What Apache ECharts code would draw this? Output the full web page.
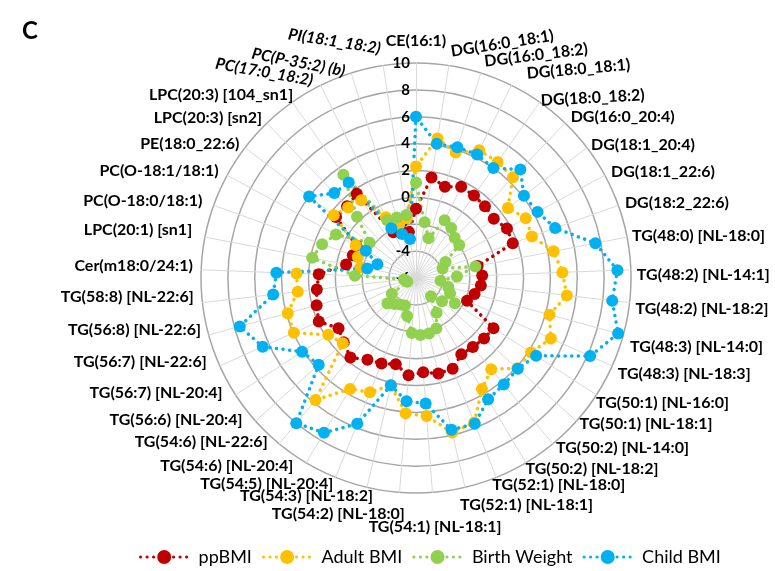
<!DOCTYPE html>
<html>
<head>
<meta charset="utf-8">
<script src="https://cdn.jsdelivr.net/npm/echarts@6/dist/echarts.min.js"></script>
<style>
html,body{margin:0;padding:0;background:#fff;}
#chart{width:775px;height:571px;}
</style>
</head>
<body>
<div id="chart"></div>
<script>
// Categories in clockwise order, starting at the top
var categories = [
  'CE(16:1)','DG(16:0_18:1)','DG(16:0_18:2)','DG(18:0_18:1)','DG(18:0_18:2)','DG(16:0_20:4)',
  'DG(18:1_20:4)','DG(18:1_22:6)','DG(18:2_22:6)','TG(48:0) [NL-18:0]','TG(48:2) [NL-14:1]',
  'TG(48:2) [NL-18:2]','TG(48:3) [NL-14:0]','TG(48:3) [NL-18:3]','TG(50:1) [NL-16:0]',
  'TG(50:1) [NL-18:1]','TG(50:2) [NL-14:0]','TG(50:2) [NL-18:2]','TG(52:1) [NL-18:0]',
  'TG(52:1) [NL-18:1]','TG(54:1) [NL-18:1]','TG(54:2) [NL-18:0]','TG(54:3) [NL-18:2]',
  'TG(54:5) [NL-20:4]','TG(54:6) [NL-20:4]','TG(54:6) [NL-22:6]','TG(56:6) [NL-20:4]',
  'TG(56:7) [NL-20:4]','TG(56:7) [NL-22:6]','TG(56:8) [NL-22:6]','TG(58:8) [NL-22:6]',
  'Cer(m18:0/24:1)','LPC(20:1) [sn1]','PC(O-18:0/18:1)','PC(O-18:1/18:1)','PE(18:0_22:6)',
  'LPC(20:3) [sn2]','LPC(20:3) [104_sn1]','PC(17:0_18:2)','PC(P-35:2) (b)','PI(18:1_18:2)'
];
var italicNames = ['PC(17:0_18:2)','PC(P-35:2) (b)','PI(18:1_18:2)'];

var ppBMI = [-0.85,1.56,1.13,1.57,1.5,1.4,1.28,1.7,1.65,-1.33,-1.07,-1.14,-1.48,-1.84,0.87,0.78,0.65,0.6,1.29,1.29,1.04,1.26,0.6,0.86,1.07,1.67,1.2,0.87,1.93,1.67,1.43,1.24,-0.7,-1.0,-0.95,1.48,1.4,1.66,-2.2,-2.5,-2.54];
var adultBMI = [2.3,4.5,3.8,4.6,4.56,4.4,2.6,3.3,3.16,4.43,4.9,5.3,4.3,5.0,4.2,4.1,2.8,3.6,5.6,5.8,4.3,4.1,2.2,3.17,3.6,5.76,1.3,1.78,3.96,3.9,2.86,2.9,-1.8,-1.4,-0.9,1.7,1.28,1.08,-0.96,-1.84,-1.5];
var birthWeight = [1.1,-1.8,-2.9,-1.2,-1.45,-1.85,-1.95,-3.5,-3.9,-1.5,-2.95,-4.16,-3.5,-3.22,-2.55,-3.4,-4.25,-3.0,-1.95,-1.76,-1.75,-1.9,-3.1,-3.8,-3.7,-3.5,-3.15,-3.86,-5.3,-5.2,-5.1,-1.45,1.87,1.42,0.78,-1.66,0.33,3.4,-1.2,-1.27,-1.25];
var childBMI = [6.0,4.1,4.2,4.25,4.0,5.2,4.1,4.3,5.0,7.6,9.0,8.7,9.6,8.2,4.65,4.15,4.27,4.5,5.7,5.6,3.37,3.2,2.2,5.7,7.4,8.0,3.7,4.1,6.5,7.6,4.7,4.4,-2.3,-2.95,-1.75,4.0,2.77,2.7,-1.86,-2.57,-3.07];

var seriesNames = ['ppBMI','Adult BMI','Birth Weight','Child BMI'];
var seriesColors = ['#c00000','#ffc000','#92d050','#00b0f0'];
var axisMin = -6, axisMax = 10;

// Label placement per category (style only): [gap, align, dx, dy, rotate]
var labelLayout = [
  [14,'center',0,0,0],[14,'left',0,0,9],[12,'left',0,0,7],[12,'left',10,0,5],
  [2,'left',0,0,3],[8,'left',0,0,0],[5,'left',0,0,0],[7,'left',0,0,0],
  [7,'left',0,0,0],[5,'left',0,0,0],[6,'left',0,5,0],[6,'left',0,5,0],
  [7,'left',0,10,0],[6,'left',0,5,0],[3,'left',-3,6,0],[4,'left',0,0,0],
  [5,'left',0,0,0],[7,'left',-4,0,0],[8,'left',-7,0,0],[18,'left',-9,0,0],
  [35,'center',0,0,0],[22,'right',7,0,0],[9,'right',8,0,0],[6.5,'right',0,0,0],
  [9.5,'right',-8,-5,0],[5.6,'right',-8,-6,0],[9.4,'right',-6,-7,0],[9.5,'right',-5,-7,0],
  [10,'right',-4,-8,0],[8,'right',0,-7,0],[8.7,'right',0,-7,0],[8.3,'right',0,-4,0],
  [13,'right',0,-4.6,0],[12,'right',0,0,0],[9.6,'right',0,0,0],[7,'right',0,0,0],
  [7,'right',0,0,0],[5.5,'right',4,-3,0],[9,'right',-3,4,-10],[5,'right',-4,4,-11],
  [17,'right',0,0,-9]
];

// ECharts lays radar indicators counter-clockwise; reorder so they read clockwise
function cw(arr){ return [arr[0]].concat(arr.slice(1).reverse()); }

function nameStyle(k){
  var L = labelLayout[k], align = L[1], dx = L[2], dy = L[3];
  var pad = [0, 0, 0, 0];
  if (align === 'left') pad[3] = dx; else if (align === 'right') pad[1] = -dx; else pad[3] = 2 * dx;
  var ts = {align: align, padding: pad};
  if (k === 0) ts.verticalAlign = 'bottom';
  else if (dy > 0) { ts.verticalAlign = 'top'; ts.lineHeight = 2 * dy; }
  else if (dy < 0) { ts.verticalAlign = 'bottom'; ts.lineHeight = -2 * dy; }
  else ts.verticalAlign = 'middle';
  if (italicNames.indexOf(categories[k]) >= 0) ts.fontStyle = 'italic';
  return ts;
}

var dotPath = 'path://' + [0,6.5,13,33,39.5,46].map(function(x){
  return 'M' + (x+0.4) + ',7a1.6,1.6 0 1,0 3.2,0a1.6,1.6 0 1,0 -3.2,0Z';
}).join(' ') + ' M18.6,7a7,7 0 1,0 14,0a7,7 0 1,0 -14,0Z';

var chart = echarts.init(document.getElementById('chart'), null, {renderer:'canvas'});
var allData = [ppBMI, adultBMI, birthWeight, childBMI];
var nameFont = {color: '#000', fontFamily: 'Lato', fontWeight: 'bold', fontSize: 16};

var indicators = cw(categories.map(function(name, k){
  return {
    name: name, min: axisMin, max: axisMax,
    nameGap: labelLayout[k][0], nameRotate: labelLayout[k][4], nameTextStyle: nameStyle(k),
    axisLabel: {show: k === 0}
  };
}));

chart.setOption({
  animation: false,
  backgroundColor: '#fff',
  title: {
    text: 'C', left: 17, top: 14,
    textStyle: {fontFamily: 'Lato', fontWeight: 'bold', fontSize: 24, color: '#000'}
  },
  legend: {
    bottom: 0, left: 134,
    itemWidth: 50, itemHeight: 14, itemGap: 10,
    textStyle: {fontFamily: 'Lato', fontSize: 18, color: '#000', padding: [0,0,0,5]},
    data: seriesNames.map(function(n){ return {name: n, icon: dotPath}; })
  },
  radar: {
    center: [416, 278], radius: 215, startAngle: 90, shape: 'circle', splitNumber: 8,
    nameGap: 7,
    axisName: nameFont,
    indicator: indicators,
    axisLabel: {show: false, color: '#000', fontFamily: 'Lato', fontWeight: 'bold', fontSize: 15, margin: 6},
    splitLine: {lineStyle: {color: '#a6a6a6', width: 1.5}},
    splitArea: {show: false},
    axisLine: {lineStyle: {color: '#d9d9d9', width: 1}},
    axisTick: {show: false}
  },
  series: [{
    type: 'radar',
    symbol: 'circle', symbolSize: 12,
    data: allData.map(function(arr, k){
      return {
        name: seriesNames[k], value: cw(arr),
        itemStyle: {color: seriesColors[k]},
        lineStyle: {color: seriesColors[k], width: 3.5, type: [0.1, 6.5], cap: 'round'}
      };
    })
  }]
});
</script>
</body>
</html>
